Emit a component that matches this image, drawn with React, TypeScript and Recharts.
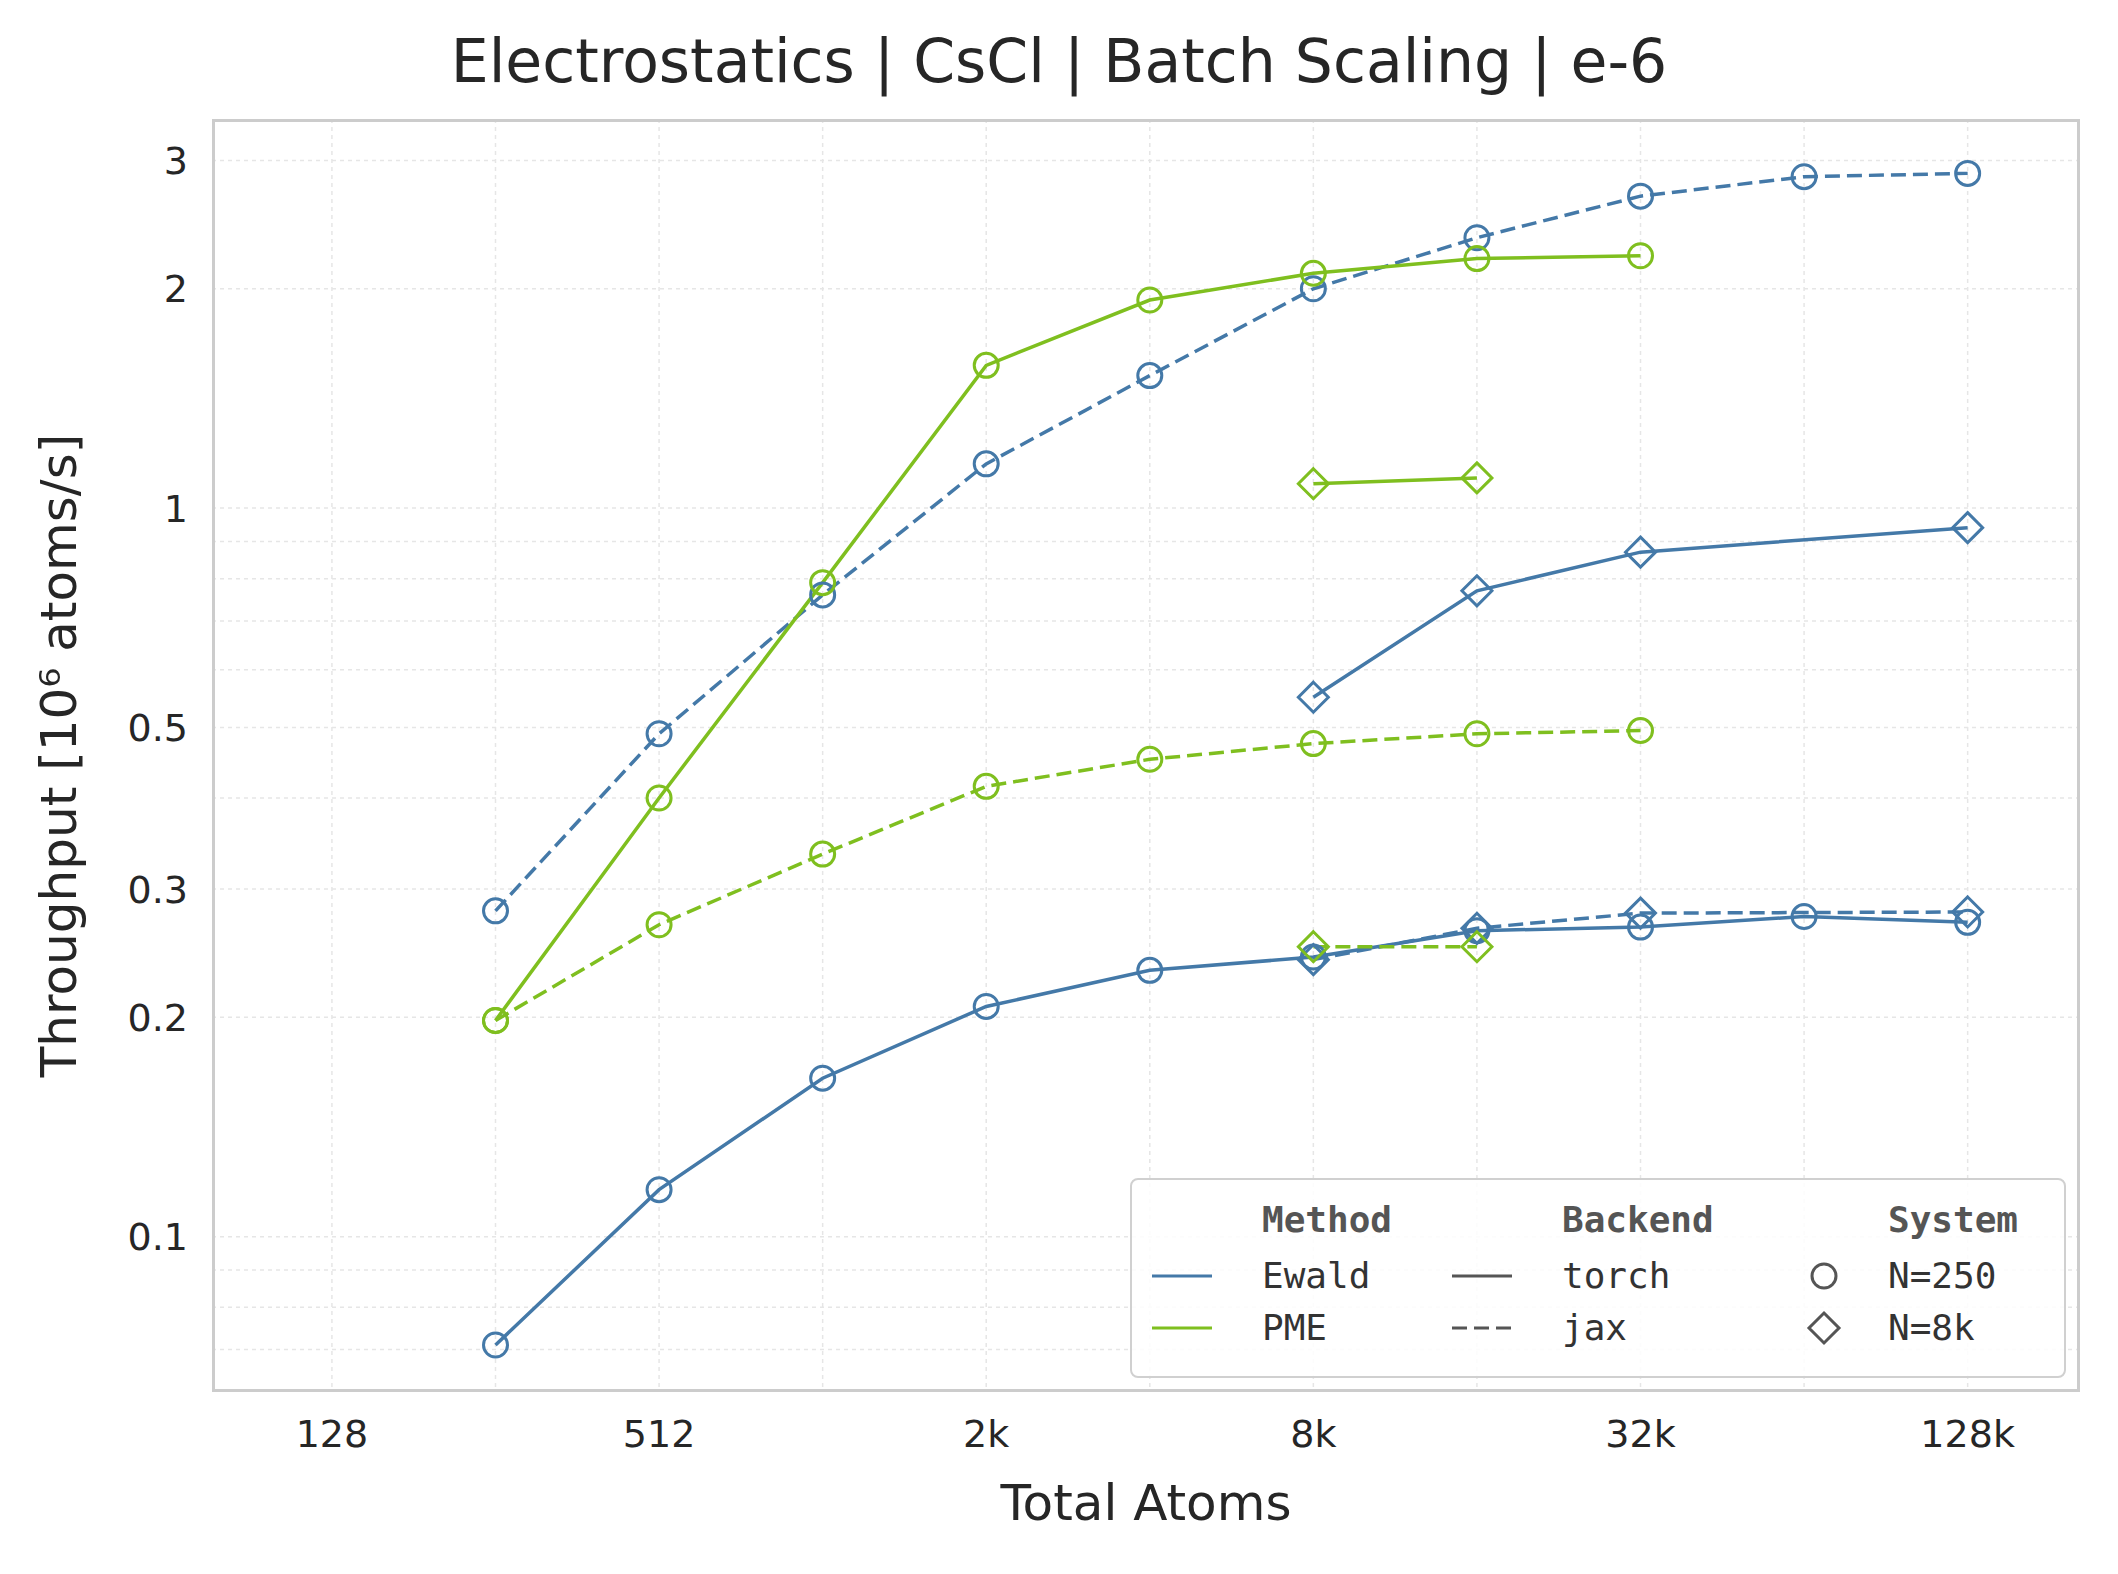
import React from "react";
import { LineChart, Line, XAxis, YAxis, CartesianGrid, Label } from "recharts";

document.body.style.margin = "0";

const xTicks = [128, 512, 2048, 8192, 32768, 131072];
const xGrid = [128, 256, 512, 1024, 2048, 4096, 8192, 16384, 32768, 65536, 131072];
const yTicks = [0.1, 0.2, 0.3, 0.5, 1, 2, 3];
const yGrid = [0.07, 0.08, 0.09, 0.1, 0.2, 0.3, 0.4, 0.5, 0.6, 0.7, 0.8, 0.9, 1, 2, 3];

const ewaldTorch250 = [[256, 0.071], [512, 0.116], [1024, 0.165], [2048, 0.207], [4096, 0.232], [8192, 0.242], [16384, 0.263], [32768, 0.266], [65536, 0.275], [131072, 0.27]];
const ewaldJax250 = [[256, 0.28], [512, 0.49], [1024, 0.76], [2048, 1.15], [4096, 1.52], [8192, 2.0], [16384, 2.35], [32768, 2.68], [65536, 2.85], [131072, 2.88]];
const pmeTorch250 = [[256, 0.198], [512, 0.4], [1024, 0.79], [2048, 1.57], [4096, 1.93], [8192, 2.1], [16384, 2.2], [32768, 2.22]];
const pmeJax250 = [[256, 0.198], [512, 0.268], [1024, 0.335], [2048, 0.415], [4096, 0.452], [8192, 0.475], [16384, 0.49], [32768, 0.495]];
const ewaldTorch8k = [[8192, 0.55], [16384, 0.77], [32768, 0.87], [131072, 0.94]];
const ewaldJax8k = [[8192, 0.24], [16384, 0.265], [32768, 0.278], [131072, 0.279]];
const pmeTorch8k = [[8192, 1.08], [16384, 1.1]];
const pmeJax8k = [[8192, 0.25], [16384, 0.25]];

const EWALD = "#4479a8";
const PME = "#7fbf1f";
const FONT = "DejaVu Sans";
const DASH = "15 7";

const toPts = (a: number[][]) => a.map(([x, y]) => ({ x, y }));

const fmtX = (v: number) => (v >= 1024 ? `${v / 1024}k` : `${v}`);

const circle = (color: string) => (p: any) =>
  <circle key={p.index} cx={p.cx} cy={p.cy} r={12} fill="none" stroke={color} strokeWidth={3} />;
const diamond = (color: string) => (p: any) => {
  const s = 15;
  return <path key={p.index} d={`M${p.cx},${p.cy - s}L${p.cx + s},${p.cy}L${p.cx},${p.cy + s}L${p.cx - s},${p.cy}Z`} fill="none" stroke={color} strokeWidth={3} />;
};

const series = [
  { data: ewaldTorch250, color: EWALD, dash: undefined, dot: circle(EWALD) },
  { data: ewaldJax250, color: EWALD, dash: DASH, dot: circle(EWALD) },
  { data: pmeTorch250, color: PME, dash: undefined, dot: circle(PME) },
  { data: pmeJax250, color: PME, dash: DASH, dot: circle(PME) },
  { data: ewaldTorch8k, color: EWALD, dash: undefined, dot: diamond(EWALD) },
  { data: ewaldJax8k, color: EWALD, dash: DASH, dot: diamond(EWALD) },
  { data: pmeTorch8k, color: PME, dash: undefined, dot: diamond(PME) },
  { data: pmeJax8k, color: PME, dash: DASH, dot: diamond(PME) },
];

const mono = "DejaVu Sans Mono";

export default function App() {
  const L = 212, T = 119, R = 2080, B = 1392;
  return (
    <div style={{ position: "relative", width: 2118, height: 1574, background: "#fff", fontFamily: FONT }}>
      <div style={{ position: "absolute", top: 26, width: 2118, textAlign: "center", fontSize: 60, color: "#262626" }}>
        Electrostatics | CsCl | Batch Scaling | e-6
      </div>
      <LineChart width={2118} height={1574} margin={{ top: T, right: 2118 - R, left: 0, bottom: 0 }}>
        <CartesianGrid horizontalValues={yGrid} verticalValues={xGrid} stroke="#e6e6e6" strokeDasharray="4 4" strokeWidth={1.5} />
        <XAxis type="number" dataKey="x" scale="log" domain={[77, 211000]} ticks={xTicks} tickFormatter={fmtX}
          allowDataOverflow height={1574 - B} tick={{ fontSize: 38, fill: "#262626", fontFamily: FONT }}
          tickLine={false} axisLine={false} tickMargin={22}>
          <Label value="Total Atoms" position="insideTop" offset={92} style={{ fontSize: 50, fill: "#262626", fontFamily: FONT }} />
        </XAxis>
        <YAxis type="number" dataKey="y" scale="log" domain={[0.0612, 3.42]} ticks={yTicks} allowDataOverflow
          width={L} tick={{ fontSize: 38, fill: "#262626", fontFamily: FONT }} tickLine={false} axisLine={false} tickMargin={18}>
          <Label value="Throughput [10⁶ atoms/s]" angle={-90} position="insideLeft" offset={58}
            style={{ fontSize: 50, fill: "#262626", fontFamily: FONT, textAnchor: "middle" }} />
        </YAxis>
        {series.map((s, i) => (
          <Line key={i} data={toPts(s.data)} dataKey="y" stroke={s.color} strokeWidth={3.5} strokeDasharray={s.dash}
            dot={s.dot} activeDot={false} isAnimationActive={false} />
        ))}
      </LineChart>
      <div style={{ position: "absolute", left: L, top: T, width: R - L, height: B - T, border: "3px solid #cccccc", boxSizing: "border-box", pointerEvents: "none" }} />
      <div style={{ position: "absolute", left: 1130, top: 1178, width: 932, height: 196, border: "2px solid #d0d0d0", borderRadius: 8, background: "rgba(255,255,255,0.85)" }}>
        <svg width={932} height={196} style={{ position: "absolute", left: 0, top: 0 }}>
          <g fontFamily={mono} fontSize={36} fill="#333">
            <text x={130} y={52} fontWeight="bold" fill="#555">Method</text>
            <line x1={20} x2={80} y1={96} y2={96} stroke={EWALD} strokeWidth={3} />
            <text x={130} y={108}>Ewald</text>
            <line x1={20} x2={80} y1={148} y2={148} stroke={PME} strokeWidth={3} />
            <text x={130} y={160}>PME</text>
            <text x={430} y={52} fontWeight="bold" fill="#555">Backend</text>
            <line x1={320} x2={380} y1={96} y2={96} stroke="#555" strokeWidth={3} />
            <text x={430} y={108}>torch</text>
            <line x1={320} x2={380} y1={148} y2={148} stroke="#555" strokeWidth={3} strokeDasharray={DASH} />
            <text x={430} y={160}>jax</text>
            <text x={756} y={52} fontWeight="bold" fill="#555">System</text>
            <circle cx={692} cy={96} r={12} fill="none" stroke="#555" strokeWidth={3} />
            <text x={756} y={108}>N=250</text>
            <path d="M692,133L707,148L692,163L677,148Z" fill="none" stroke="#555" strokeWidth={3} />
            <text x={756} y={160}>N=8k</text>
          </g>
        </svg>
      </div>
    </div>
  );
}
